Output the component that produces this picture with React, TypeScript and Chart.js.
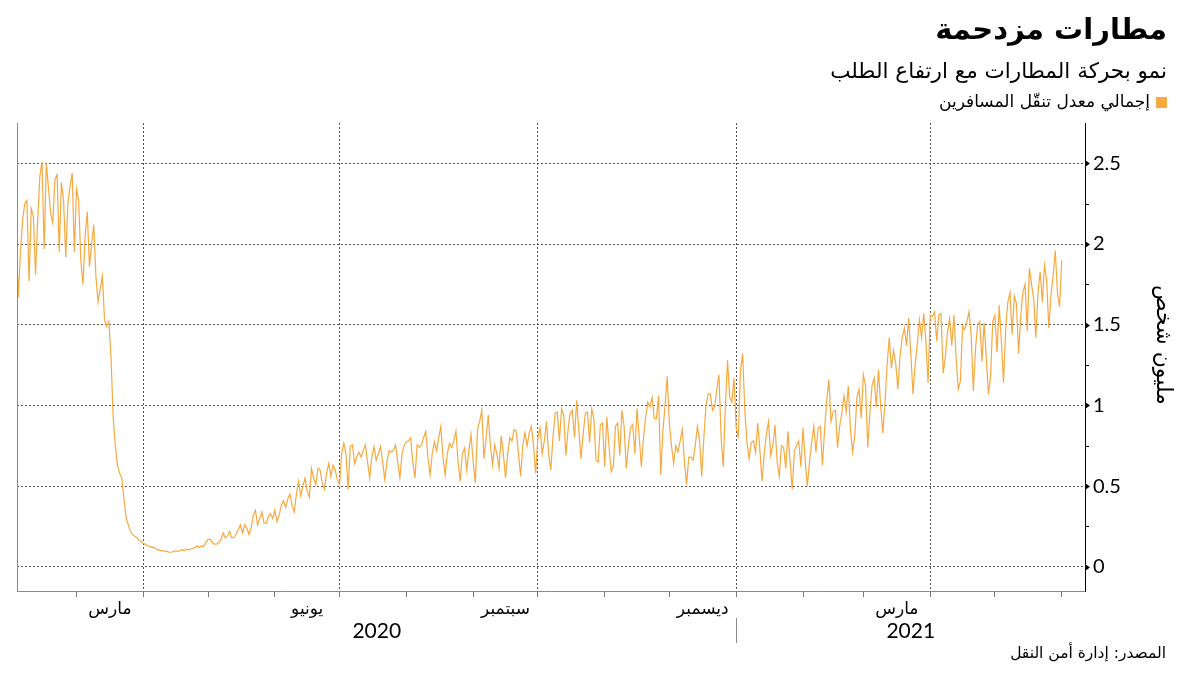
import React, { useEffect, useRef } from "react";
import { Chart, registerables } from "chart.js";

Chart.register(...registerables);

// ---- Data: daily passenger throughput (million people), one array per month ----
const feb2020 = [2.06, 1.67, 1.95, 2.15, 2.25, 2.27, 1.77, 2.22, 2.17, 1.81, 2.15, 2.42, 2.51, 1.97, 2.5, 2.35, 2.19, 2.13, 2.4, 2.43, 1.95, 2.38, 2.27, 1.92, 2.25, 2.36, 2.44, 1.95];
const mar2020 = [2.34, 2.27, 1.9, 1.75, 2.05, 2.2, 1.86, 2.0, 2.12, 1.8, 1.64, 1.72, 1.8, 1.53, 1.49, 1.52, 1.3, 0.93, 0.75, 0.63, 0.58, 0.55, 0.42, 0.31, 0.26, 0.22, 0.2, 0.19, 0.18, 0.165, 0.155];
const apr2020 = [0.145, 0.14, 0.13, 0.125, 0.12, 0.12, 0.11, 0.105, 0.1, 0.1, 0.095, 0.095, 0.09, 0.09, 0.095, 0.1, 0.095, 0.1, 0.105, 0.1, 0.11, 0.105, 0.11, 0.115, 0.12, 0.13, 0.12, 0.13, 0.125, 0.15];
const may2020 = [0.17, 0.17, 0.15, 0.14, 0.14, 0.15, 0.17, 0.21, 0.18, 0.19, 0.22, 0.18, 0.18, 0.2, 0.23, 0.26, 0.21, 0.26, 0.24, 0.2, 0.24, 0.32, 0.35, 0.26, 0.3, 0.34, 0.27, 0.27, 0.31, 0.33, 0.3];
const jun2020 = [0.35, 0.28, 0.32, 0.38, 0.41, 0.37, 0.42, 0.45, 0.38, 0.34, 0.45, 0.53, 0.44, 0.5, 0.55, 0.47, 0.43, 0.61, 0.55, 0.51, 0.61, 0.6, 0.52, 0.48, 0.58, 0.64, 0.56, 0.63, 0.6, 0.54];
const jul2020 = [0.51, 0.7, 0.765, 0.7, 0.48, 0.745, 0.755, 0.64, 0.68, 0.71, 0.68, 0.72, 0.755, 0.65, 0.55, 0.68, 0.745, 0.66, 0.7, 0.745, 0.65, 0.54, 0.65, 0.72, 0.71, 0.72, 0.755, 0.65, 0.55, 0.7, 0.755];
const aug2020 = [0.775, 0.78, 0.8, 0.65, 0.55, 0.755, 0.74, 0.755, 0.8, 0.84, 0.68, 0.57, 0.7, 0.775, 0.72, 0.8, 0.87, 0.68, 0.57, 0.7, 0.765, 0.74, 0.78, 0.84, 0.65, 0.53, 0.7, 0.735, 0.6, 0.72, 0.82];
const sep2020 = [0.65, 0.52, 0.85, 0.9, 0.97, 0.67, 0.8, 0.94, 0.75, 0.63, 0.755, 0.7, 0.61, 0.81, 0.7, 0.55, 0.7, 0.8, 0.78, 0.85, 0.84, 0.7, 0.56, 0.75, 0.83, 0.75, 0.83, 0.87, 0.75, 0.58];
const oct2020 = [0.8, 0.86, 0.7, 0.78, 0.9, 0.7, 0.6, 0.8, 0.95, 0.96, 0.78, 0.98, 0.94, 0.69, 0.85, 0.95, 0.97, 0.8, 1.03, 0.85, 0.67, 0.82, 0.95, 0.96, 0.77, 0.98, 0.91, 0.66, 0.65, 0.88, 0.89];
const nov2020 = [0.62, 0.93, 0.75, 0.59, 0.62, 0.87, 0.89, 0.69, 0.97, 0.87, 0.61, 0.75, 0.86, 0.88, 0.7, 0.98, 0.81, 0.62, 0.8, 0.93, 1.02, 0.99, 1.05, 0.92, 0.92, 1.06, 0.57, 0.84, 1.0, 1.18];
const dec2020 = [0.89, 0.75, 0.64, 0.75, 0.71, 0.78, 0.85, 0.65, 0.51, 0.68, 0.68, 0.66, 0.75, 0.87, 0.79, 0.56, 0.8, 1.0, 1.07, 1.07, 0.97, 0.99, 1.1, 1.19, 0.8, 0.62, 1.0, 1.28, 1.05, 1.02, 1.17];
const jan2021 = [0.86, 0.81, 1.22, 1.32, 0.97, 0.77, 0.67, 0.77, 0.78, 0.71, 0.89, 0.72, 0.53, 0.7, 0.82, 0.9, 0.69, 0.75, 0.88, 0.65, 0.56, 0.75, 0.74, 0.61, 0.84, 0.65, 0.48, 0.72, 0.75, 0.78, 0.62];
const feb2021 = [0.86, 0.66, 0.5, 0.65, 0.77, 0.87, 0.71, 0.86, 0.87, 0.63, 0.85, 1.03, 1.16, 0.9, 0.96, 0.97, 0.74, 0.87, 0.95, 1.06, 0.96, 1.12, 0.85, 0.71, 0.81, 1.05, 1.1, 0.92];
const mar2021 = [1.19, 1.12, 0.74, 0.95, 1.12, 1.17, 0.99, 1.22, 1.0, 0.83, 1.01, 1.25, 1.42, 1.23, 1.34, 1.26, 1.1, 1.3, 1.42, 1.48, 1.37, 1.54, 1.32, 1.07, 1.25, 1.38, 1.53, 1.42, 1.57, 1.4, 1.14];
const apr2021 = [1.56, 1.55, 1.58, 1.4, 1.56, 1.57, 1.2, 1.3, 1.45, 1.54, 1.37, 1.56, 1.3, 1.1, 1.15, 1.49, 1.47, 1.52, 1.58, 1.43, 1.09, 1.35, 1.5, 1.52, 1.27, 1.51, 1.3, 1.07, 1.18, 1.52];
const may2021 = [1.56, 1.33, 1.62, 1.4, 1.14, 1.47, 1.64, 1.7, 1.44, 1.68, 1.63, 1.32, 1.56, 1.7, 1.75, 1.46, 1.85, 1.75, 1.66, 1.42, 1.7, 1.83, 1.64, 1.87, 1.78, 1.48, 1.68, 1.8, 1.96, 1.7, 1.61];
const jun2021 = [1.9];

// first date of each month array [year, monthIndex, day]
const segmentStarts: [number, number, number][] = [
  [2020, 1, 2], [2020, 2, 1], [2020, 3, 1], [2020, 4, 1], [2020, 5, 1], [2020, 6, 1],
  [2020, 7, 1], [2020, 8, 1], [2020, 9, 1], [2020, 10, 1], [2020, 11, 1], [2021, 0, 1],
  [2021, 1, 1], [2021, 2, 1], [2021, 3, 1], [2021, 4, 1], [2021, 5, 1],
];
const segmentValues = [feb2020, mar2020, apr2020, may2020, jun2020, jul2020, aug2020, sep2020, oct2020, nov2020, dec2020, jan2021, feb2021, mar2021, apr2021, may2021, jun2021];

// ---- Axis content ----
const monthLabels = ["مارس", "يونيو", "سبتمبر", "ديسمبر", "مارس"];
const monthLabelMonths: [number, number][] = [[2020, 2], [2020, 5], [2020, 8], [2020, 11], [2021, 2]];
const monthTickMonths: [number, number][] = [
  [2020, 2], [2020, 3], [2020, 4], [2020, 5], [2020, 6], [2020, 7], [2020, 8], [2020, 9],
  [2020, 10], [2020, 11], [2021, 0], [2021, 1], [2021, 2], [2021, 3], [2021, 4], [2021, 5],
];
const quarterMonths: [number, number][] = [[2020, 3], [2020, 6], [2020, 9], [2021, 0], [2021, 3]];
const yearLabels = ["2020", "2021"];
const yTickValues = [0, 0.25, 0.5, 0.75, 1, 1.25, 1.5, 1.75, 2, 2.25, 2.5];
const yMajorLabels = ["0", "0.5", "1", "1.5", "2", "2.5"];

const TITLE = "مطارات مزدحمة";
const SUBTITLE = "نمو بحركة المطارات مع ارتفاع الطلب";
const LEGEND = "إجمالي معدل تنقّل المسافرين";
const SOURCE = "المصدر: إدارة أمن النقل";
const Y_TITLE = "مليون شخص";

const ORANGE = "#F7A940";
const ARABIC = "'DejaVu Sans', sans-serif";
const NUM = "Lato, 'DejaVu Sans', sans-serif";

const DAY = 86400000;
const BASE = Date.UTC(2020, 0, 1);
const dayOf = (y: number, m: number, d: number) => (Date.UTC(y, m, d) - BASE) / DAY;

const X_MIN = 32.4;
const X_MAX = 527.8;

export default function App() {
  const ref = useRef<HTMLCanvasElement>(null);

  useEffect(() => {
    const canvas = ref.current;
    if (!canvas) return;

    const points: { x: number; y: number }[] = [];
    segmentValues.forEach((vals, s) => {
      const [y, m, d] = segmentStarts[s];
      const start = dayOf(y, m, d);
      vals.forEach((v, i) => points.push({ x: start + i, y: v }));
    });

    const boundaryDays = monthTickMonths.map(([y, m]) => dayOf(y, m, 1));
    const quarterDays = quarterMonths.map(([y, m]) => dayOf(y, m, 1));
    const labelDays = monthLabelMonths.map(([y, m]) => (dayOf(y, m, 1) + dayOf(y, m + 1, 1)) / 2);
    const xTickValues = [...boundaryDays, ...labelDays].sort((a, b) => a - b);
    const yearBoundary = dayOf(2021, 0, 1);

    const near = (a: number, b: number) => Math.abs(a - b) < 1e-6;
    const isMajorY = (v: number) => near(v * 2, Math.round(v * 2));

    const extras = {
      id: "extras",
      afterDraw(chart: any) {
        const { ctx, chartArea, scales } = chart;
        const xs = scales.x;
        const ys = scales.y;
        ctx.save();
        // left frame line
        ctx.strokeStyle = "#8a8a8a";
        ctx.lineWidth = 1;
        ctx.beginPath();
        ctx.moveTo(Math.round(chartArea.left) + 0.5, chartArea.top);
        ctx.lineTo(Math.round(chartArea.left) + 0.5, chartArea.bottom);
        ctx.stroke();
        // y-axis tick marks
        ctx.fillStyle = "#000";
        ctx.strokeStyle = "#000";
        yTickValues.forEach((v) => {
          const py = Math.round(ys.getPixelForValue(v)) + 0.5;
          const r = chartArea.right;
          if (isMajorY(v)) {
            ctx.beginPath();
            ctx.moveTo(r, py - 3.5);
            ctx.lineTo(r + 5, py);
            ctx.lineTo(r, py + 3.5);
            ctx.closePath();
            ctx.fill();
          } else {
            ctx.beginPath();
            ctx.moveTo(r, py);
            ctx.lineTo(r + 4, py);
            ctx.stroke();
          }
        });
        // year separator and labels
        const sepX = Math.round(xs.getPixelForValue(yearBoundary)) + 0.5;
        ctx.strokeStyle = "#8a8a8a";
        ctx.beginPath();
        ctx.moveTo(sepX, chartArea.bottom + 27);
        ctx.lineTo(sepX, chartArea.bottom + 52);
        ctx.stroke();
        ctx.fillStyle = "#000";
        ctx.font = `21px ${NUM}`;
        ctx.textAlign = "center";
        ctx.textBaseline = "middle";
        ctx.fillText(yearLabels[0], (chartArea.left + sepX) / 2, chartArea.bottom + 40);
        ctx.fillText(yearLabels[1], (sepX + chartArea.right) / 2, chartArea.bottom + 40);
        // y-axis title, rotated clockwise
        ctx.translate(chartArea.right + 78, (chartArea.top + chartArea.bottom) / 2 - 12);
        ctx.rotate(Math.PI / 2);
        ctx.font = `22px ${ARABIC}`;
        ctx.fillText(Y_TITLE, 0, 0);
        ctx.restore();
      },
    };

    const chart = new Chart(canvas, {
      type: "line",
      data: {
        datasets: [
          {
            data: points,
            borderColor: ORANGE,
            borderWidth: 1.2,
            pointRadius: 0,
            fill: false,
            tension: 0,
          },
        ],
      },
      options: {
        responsive: false,
        animation: false,
        devicePixelRatio: 1,
        events: [],
        layout: { padding: { left: 17, top: 123, right: 0, bottom: 0 } },
        plugins: {
          legend: { display: false },
          tooltip: { enabled: false },
          title: { display: false },
        },
        scales: {
          x: {
            type: "linear",
            min: X_MIN,
            max: X_MAX,
            afterBuildTicks: (s: any) => {
              s.ticks = xTickValues.map((v) => ({ value: v }));
            },
            afterFit: (s: any) => {
              s.height = 84;
            },
            ticks: {
              autoSkip: false,
              maxRotation: 0,
              minRotation: 0,
              padding: 2,
              color: "#000",
              font: { family: ARABIC, size: 17 },
              callback: (v: any) => {
                const i = labelDays.findIndex((d) => near(d, Number(v)));
                return i >= 0 ? monthLabels[i] : "";
              },
            },
            grid: {
              color: (c: any) =>
                c.tick && quarterDays.some((d) => near(d, c.tick.value)) ? "#555" : "rgba(0,0,0,0)",
              lineWidth: 1,
              drawTicks: true,
              tickLength: 6,
              tickWidth: 1,
              tickColor: (c: any) =>
                c.tick && boundaryDays.some((d) => near(d, c.tick.value)) ? "#777" : "rgba(0,0,0,0)",
            },
            border: { display: true, color: "#8a8a8a", width: 1, dash: [2, 2] },
          },
          y: {
            type: "linear",
            position: "right",
            min: -0.15,
            max: 2.75,
            afterBuildTicks: (s: any) => {
              s.ticks = yTickValues.map((v) => ({ value: v }));
            },
            afterFit: (s: any) => {
              s.width = 115;
            },
            ticks: {
              padding: 8,
              color: "#000",
              font: { family: NUM, size: 20 },
              callback: (v: any) => {
                const n = Number(v);
                return isMajorY(n) ? yMajorLabels[Math.round(n * 2)] : "";
              },
            },
            grid: {
              color: (c: any) => (c.tick && isMajorY(c.tick.value) ? "#555" : "rgba(0,0,0,0)"),
              lineWidth: 1,
              drawTicks: false,
            },
            border: { display: true, color: "#000", width: 1, dash: [2, 2] },
          },
        },
      },
      plugins: [extras],
    } as any);

    return () => chart.destroy();
  }, []);

  const textBase: React.CSSProperties = {
    position: "absolute",
    direction: "rtl",
    whiteSpace: "nowrap",
    color: "#000",
    fontFamily: ARABIC,
    lineHeight: 1,
  };

  return (
    <div style={{ position: "fixed", left: 0, top: 0, width: 1200, height: 675, background: "#fff", overflow: "hidden" }}>
      <canvas ref={ref} width={1200} height={675} style={{ position: "absolute", left: 0, top: 0, width: 1200, height: 675 }} />
      <div dir="rtl" style={{ ...textBase, right: 33, top: 15, fontSize: 29, fontWeight: 700 }}>{TITLE}</div>
      <div dir="rtl" style={{ ...textBase, right: 33, top: 60, fontSize: 21.5 }}>{SUBTITLE}</div>
      <div style={{ position: "absolute", left: 1156, top: 97, width: 11, height: 11, background: ORANGE }} />
      <div dir="rtl" style={{ ...textBase, right: 50, top: 93, fontSize: 17 }}>{LEGEND}</div>
      <div dir="rtl" style={{ ...textBase, right: 34, top: 646, fontSize: 15.5 }}>{SOURCE}</div>
    </div>
  );
}
